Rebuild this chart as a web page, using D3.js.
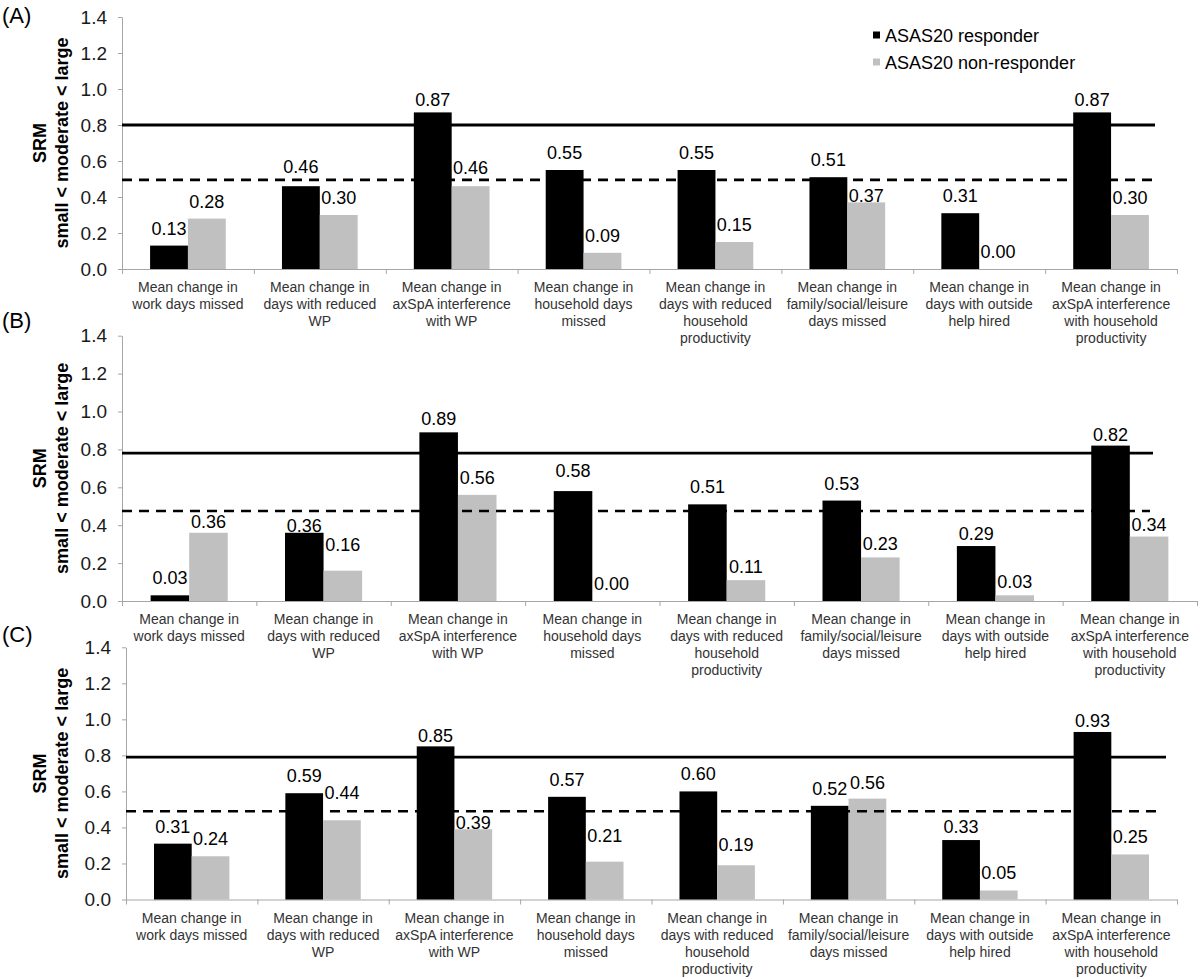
<!DOCTYPE html>
<html>
<head>
<meta charset="utf-8">
<script src="https://cdn.jsdelivr.net/npm/d3@7"></script>
<style>
  html, body { margin: 0; padding: 0; background: #fff; }
  svg { display: block; font-family: "Liberation Sans", Arial, Helvetica, sans-serif; }
</style>
</head>
<body>
<svg id="chart" width="1200" height="979"></svg>
<script>
// ---------------- DATA ----------------
const categories = [
  ["Mean change in", "work days missed"],
  ["Mean change in", "days with reduced", "WP"],
  ["Mean change in", "axSpA interference", "with WP"],
  ["Mean change in", "household days", "missed"],
  ["Mean change in", "days with reduced", "household", "productivity"],
  ["Mean change in", "family/social/leisure", "days missed"],
  ["Mean change in", "days with outside", "help hired"],
  ["Mean change in", "axSpA interference", "with household", "productivity"]
];
const seriesNames = ["ASAS20 responder", "ASAS20 non-responder"];
const panelTitles = ["(A)", "(B)", "(C)"];

const responderA    = [0.13, 0.46, 0.87, 0.55, 0.55, 0.51, 0.31, 0.87];
const nonResponderA = [0.28, 0.30, 0.46, 0.09, 0.15, 0.37, 0.00, 0.30];
const responderB    = [0.03, 0.36, 0.89, 0.58, 0.51, 0.53, 0.29, 0.82];
const nonResponderB = [0.36, 0.16, 0.56, 0.00, 0.11, 0.23, 0.03, 0.34];
const responderC    = [0.31, 0.59, 0.85, 0.57, 0.60, 0.52, 0.33, 0.93];
const nonResponderC = [0.24, 0.44, 0.39, 0.21, 0.19, 0.56, 0.05, 0.25];

const largeThreshold    = [0.80, 0.78, 0.79];   // solid line
const moderateThreshold = [0.495, 0.475, 0.49]; // dashed line

const yTicks = [0.0, 0.2, 0.4, 0.6, 0.8, 1.0, 1.2, 1.4];
const yTitle1 = "SRM";
const yTitle2 = "small < moderate < large";

// ---------------- LAYOUT / STYLE ----------------
const layout = [
  { top: 17,    bottom: 269,   left: 122, right: 1177, titleY: 23,  largeEnd: 1155, modEnd: 1157 },
  { top: 335.7, bottom: 601,   left: 122, right: 1197, titleY: 328, largeEnd: 1153, modEnd: 1150 },
  { top: 647.3, bottom: 899.5, left: 126, right: 1177, titleY: 642, largeEnd: 1166, modEnd: 1162 }
];
// gap (px) between bar top and label baseline; default plus manual placements seen in the original
const defaultLabelGap = 11;
const labelGapOverride = {
  "0-0-1": 13, "0-1-2": 12, "0-0-2": 6, "0-0-7": 6, "0-1-5": 0,
  "1-0-1": 0.5, "1-1-1": 20, "1-0-2": 7, "1-0-3": 14,
  "1-1-0": 4.5, "1-1-4": 7, "1-1-5": 7.5, "1-0-6": 6.5, "1-1-6": 7.5, "1-0-7": 5, "1-1-7": 6,
  "2-0-2": 4, "2-1-1": 21.5, "2-1-2": 0, "2-1-3": 20, "2-1-4": 14, "2-0-7": 5, "2-0-6": 7.5, "2-1-5": 9.5
};
const colors = ["#000000", "#c0c0c0"];
const axisColor = "#a6a6a6";

const panelData = [
  [responderA, nonResponderA],
  [responderB, nonResponderB],
  [responderC, nonResponderC]
];

const svg = d3.select("#chart");

panelData.forEach((series, p) => {
  const L = layout[p];
  const g = svg.append("g");

  const y = d3.scaleLinear().domain([0, 1.4]).range([L.bottom, L.top]);
  const x = d3.scaleBand().domain(d3.range(categories.length)).range([L.left, L.right]).padding(0);
  const xEdge = d3.scaleLinear().domain([0, categories.length]).range([L.left, L.right]);
  const bw = x.bandwidth() * 0.287;
  const sub = d3.scaleBand().domain([0, 1]).range([0, 2 * bw]);

  // panel title
  g.append("text").attr("x", 2).attr("y", L.titleY)
    .attr("font-size", 22).attr("fill", "#000").text(panelTitles[p]);

  // y axis
  const yAxis = g.append("g").attr("transform", `translate(${L.left},0)`)
    .call(d3.axisLeft(y).tickValues(yTicks).tickFormat(d3.format(".1f")).tickSize(4).tickSizeOuter(0).tickPadding(11));
  yAxis.select(".domain").attr("stroke", axisColor);
  yAxis.selectAll(".tick line").attr("stroke", axisColor);
  yAxis.selectAll(".tick text").attr("font-size", 19).attr("fill", "#1a1a1a")
    .attr("font-family", '"Liberation Sans", Arial, sans-serif');

  // x axis (ticks at category boundaries)
  const xAxis = g.append("g").attr("transform", `translate(0,${L.bottom})`)
    .call(d3.axisBottom(xEdge).tickValues(d3.range(categories.length + 1)).tickFormat("").tickSize(5).tickSizeOuter(0));
  xAxis.select(".domain").attr("stroke", axisColor);
  xAxis.selectAll(".tick line").attr("stroke", axisColor);

  // y axis title
  const cy = (L.top + L.bottom) / 2;
  g.append("text").attr("transform", `translate(46,${cy}) rotate(-90)`)
    .attr("text-anchor", "middle").attr("font-size", 18).attr("font-weight", "bold").text(yTitle1);
  g.append("text").attr("transform", `translate(68,${cy}) rotate(-90)`)
    .attr("text-anchor", "middle").attr("font-size", 18).attr("font-weight", "bold").text(yTitle2);

  // bars
  series.forEach((vals, s) => {
    g.append("g").selectAll("rect").data(vals).join("rect")
      .attr("x", (d, i) => x(i) + x.bandwidth() / 2 - bw + sub(s))
      .attr("y", d => y(d))
      .attr("width", sub.bandwidth())
      .attr("height", d => y(0) - y(d))
      .attr("fill", colors[s]);
  });

  // threshold lines
  g.append("line").attr("x1", L.left).attr("x2", L.largeEnd)
    .attr("y1", y(largeThreshold[p])).attr("y2", y(largeThreshold[p]))
    .attr("stroke", "#000").attr("stroke-width", 2.8);
  g.append("line").attr("x1", L.left).attr("x2", L.modEnd)
    .attr("y1", y(moderateThreshold[p])).attr("y2", y(moderateThreshold[p]))
    .attr("stroke", "#000").attr("stroke-width", 2.6).attr("stroke-dasharray", "10,7");

  // value labels
  series.forEach((vals, s) => {
    g.append("g").selectAll("text").data(vals).join("text")
      .attr("x", (d, i) => x(i) + x.bandwidth() / 2 - bw + sub(s) + sub.bandwidth() / 2)
      .attr("y", (d, i) => {
        const k = `${p}-${s}-${i}`;
        const gap = (k in labelGapOverride) ? labelGapOverride[k] : defaultLabelGap;
        return y(d) - gap;
      })
      .attr("text-anchor", "middle").attr("font-size", 18).attr("fill", "#000")
      .text(d => d3.format(".2f")(d));
  });

  // category labels
  const cl = g.append("g").selectAll("text").data(categories).join("text")
    .attr("text-anchor", "middle").attr("font-size", 14).attr("fill", "#333");
  cl.each(function(lines, i) {
    const t = d3.select(this);
    lines.forEach((ln, k) => {
      t.append("tspan").attr("x", x(i) + x.bandwidth() / 2).attr("y", L.bottom + 23 + k * 17).text(ln);
    });
  });
});

// legend
const legend = svg.append("g");
const legendY = [35, 62];
seriesNames.forEach((name, s) => {
  legend.append("rect").attr("x", 873).attr("y", legendY[s] - 3.5).attr("width", 7).attr("height", 7).attr("fill", colors[s]);
  legend.append("text").attr("x", 885).attr("y", legendY[s] + 6.5).attr("font-size", 18).attr("fill", "#000").text(name);
});
</script>
</body>
</html>
